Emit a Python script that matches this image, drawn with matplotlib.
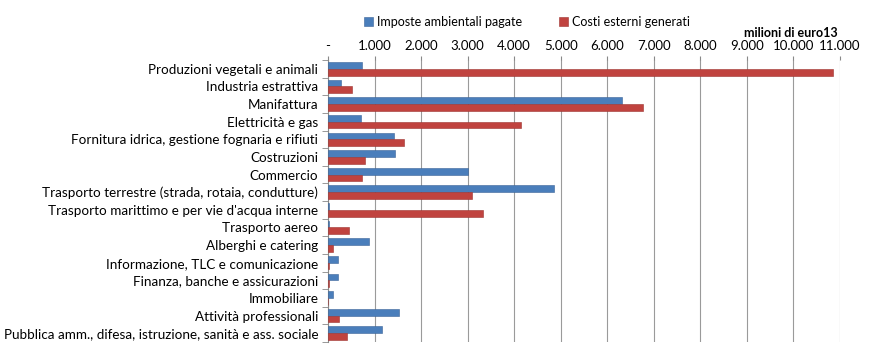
import numpy as np
import matplotlib.pyplot as plt
from matplotlib.ticker import FixedLocator, FuncFormatter

plt.rcParams['font.family'] = ['Lato', 'DejaVu Sans']

# Data (milioni di euro13)
settori = [
    'Produzioni vegetali e animali',
    'Industria estrattiva',
    'Manifattura',
    'Elettricità e gas',
    'Fornitura idrica, gestione fognaria e rifiuti',
    'Costruzioni',
    'Commercio',
    'Trasporto terrestre (strada, rotaia, condutture)',
    "Trasporto marittimo e per vie d'acqua interne",
    'Trasporto aereo',
    'Alberghi e catering',
    'Informazione, TLC e comunicazione',
    'Finanza, banche e assicurazioni',
    'Immobiliare',
    'Attività professionali',
    'Pubblica amm., difesa, istruzione, sanità e ass. sociale',
]
imposte = [720, 290, 6320, 700, 1420, 1450, 3000, 4850,
           25, 20, 890, 210, 220, 100, 1520, 1150]
costi = [10840, 510, 6770, 4140, 1630, 800, 720, 3100,
         3340, 450, 100, 20, 20, 10, 240, 400]

blue = '#4A7EBB'
red = '#C0433F'

fig = plt.figure(figsize=(8.93, 3.53), dpi=100)
ax = fig.add_axes([328 / 893, 1 - 342 / 353, (840 - 328) / 893, (342 - 60) / 353])

y = np.arange(len(settori))
h = 0.38
ax.barh(y - h / 2, imposte, height=h, color=blue, edgecolor='#3A6498', linewidth=0.4,
        label='Imposte ambientali pagate', zorder=3)
ax.barh(y + h / 2, costi, height=h, color=red, edgecolor='#9E3330', linewidth=0.4,
        label='Costi esterni generati', zorder=3)

ax.set_ylim(len(settori) - 0.5, -0.5)
ax.set_yticks(y)
ax.set_yticklabels(settori, fontsize=9.7)
ax.yaxis.set_minor_locator(FixedLocator(np.arange(-0.5, len(settori), 1)))
ax.tick_params(axis='y', which='major', length=0, pad=7)
ax.tick_params(axis='y', which='minor', length=4, color='#888888')

ax.set_xlim(0, 11000)
ax.set_xticks(np.arange(0, 11001, 1000))
ax.xaxis.set_major_formatter(FuncFormatter(
    lambda v, p: '-' if v == 0 else f'{int(v):,}'.replace(',', '.')))
ax.xaxis.tick_top()
ax.tick_params(axis='x', length=3, color='#888888', labelsize=9.5, pad=3)
ax.grid(axis='x', color='#9A9A9A', linewidth=0.8, zorder=0)

for s in ['top', 'right', 'bottom']:
    ax.spines[s].set_visible(False)
ax.spines['left'].set_color('#888888')

fig.legend(loc='center', bbox_to_anchor=(527 / 893, 1 - 22 / 353), ncol=2,
           frameon=False, fontsize=9, handlelength=0.7, handleheight=0.7,
           columnspacing=3.0, handletextpad=0.3)
fig.text(838 / 893, 1 - 33 / 353, 'milioni di euro13', ha='right', va='center',
         fontsize=9, fontweight='bold')

fig.savefig('out.png', dpi=100)
